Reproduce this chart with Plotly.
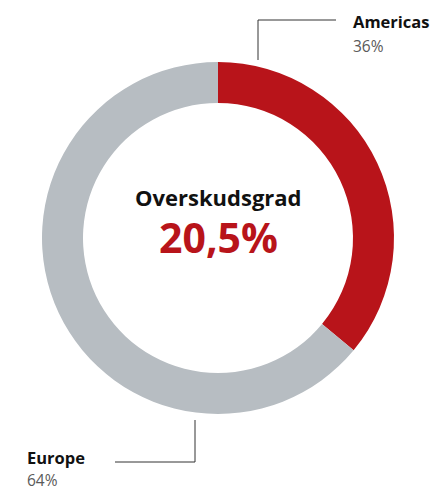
import plotly.graph_objects as go

labels = ["Americas", "Europe"]
values = [36, 64]
colors = ["#B8141A", "#B7BDC2"]
center_title = "Overskudsgrad"
center_value = "20,5%"

W, H = 438, 492
cx, cy, R = 218, 238, 176

def px(x):
    return x / W

def py(y):
    return 1 - y / H

fig = go.Figure(go.Pie(
    labels=labels, values=values, sort=False, direction="clockwise", rotation=0,
    hole=0.767, marker=dict(colors=colors, line=dict(width=0)),
    textinfo="none", hoverinfo="label+percent", showlegend=False,
    domain=dict(x=[px(cx - R), px(cx + R)], y=[py(cy + R), py(cy - R)]),
))

font = "'Open Sans', Lato, sans-serif"
ann = [
    dict(x=px(cx), y=py(197), text=f"<b>{center_title}</b>", font=dict(size=22, color="#111", family=font)),
    dict(x=px(cx), y=py(237), text=f"<b>{center_value}</b>", font=dict(size=41, color=colors[0], family=font)),
    dict(x=px(351), y=py(21), text=f"<b>{labels[0]}</b>", xanchor="left", font=dict(size=16.5, color="#111", family=font)),
    dict(x=px(351), y=py(46), text=f"{values[0]}%", xanchor="left", font=dict(size=15.5, color="#5a5a5a", family=font)),
    dict(x=px(26), y=py(457), text=f"<b>{labels[1]}</b>", xanchor="left", borderpad=0,
         font=dict(size=16.5, color="#111", family=font)),
    dict(x=px(26), y=py(492), text=f"{values[1]}%", xanchor="left", yanchor="bottom", borderpad=0,
         font=dict(size=15.5, color="#5a5a5a", family=font)),
]
for a in ann:
    a.update(xref="paper", yref="paper", showarrow=False)
    a.setdefault("yanchor", "middle")
    a.setdefault("xanchor", "center")

line = dict(color="#333", width=1)
shapes = [
    dict(type="line", x0=px(258), x1=px(258), y0=py(20), y1=py(60), line=line),
    dict(type="line", x0=px(258), x1=px(336), y0=py(20), y1=py(20), line=line),
    dict(type="line", x0=px(195), x1=px(195), y0=py(420), y1=py(462), line=line),
    dict(type="line", x0=px(115), x1=px(195), y0=py(462), y1=py(462), line=line),
]
for s in shapes:
    s.update(xref="paper", yref="paper")

fig.update_layout(
    width=W, height=H, margin=dict(l=0, r=0, t=0, b=0),
    paper_bgcolor="white", plot_bgcolor="white",
    annotations=ann, shapes=shapes,
)
fig.write_html("out.html")
